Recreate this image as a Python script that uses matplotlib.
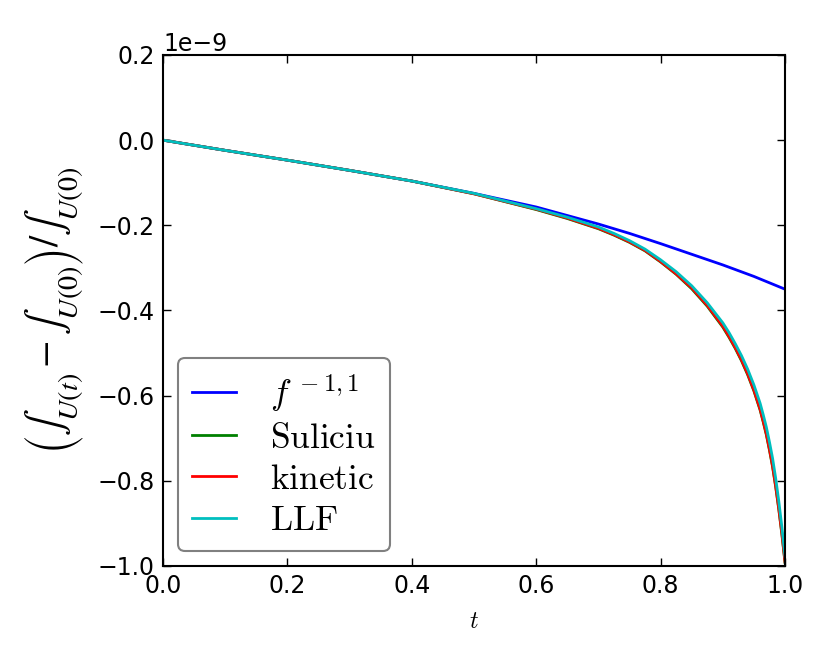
#!/usr/bin/env python3
"""Relative mass drift of the four schemes over time."""

import matplotlib

matplotlib.use("Agg")
import matplotlib.pyplot as plt
import numpy as np

# t samples, values in units of 1e-9
T_BLUE = [0.0, 0.1, 0.2, 0.3, 0.4, 0.5, 0.6, 0.65, 0.7, 0.75, 0.8, 0.85, 0.9, 0.95, 1.0]
V_BLUE = [0.0, -0.024, -0.047, -0.071, -0.096, -0.125, -0.157, -0.177, -0.197, -0.219,
          -0.243, -0.268, -0.293, -0.320, -0.350]

T_STIFF = [0.0, 0.1, 0.2, 0.3, 0.4, 0.5, 0.6, 0.65, 0.7, 0.725, 0.75, 0.775, 0.8, 0.825,
           0.85, 0.875, 0.9, 0.91, 0.92, 0.93, 0.94, 0.95, 0.96, 0.965, 0.97, 0.975,
           0.98, 0.985, 0.99, 0.995, 1.0]
V_SULICIU = [0.0, -0.024, -0.047, -0.071, -0.096, -0.126, -0.163, -0.184, -0.208, -0.223,
             -0.240, -0.260, -0.286, -0.315, -0.349, -0.390, -0.439, -0.463, -0.489,
             -0.518, -0.551, -0.589, -0.634, -0.662, -0.692, -0.728, -0.767, -0.814,
             -0.867, -0.926, -0.992]
V_KINETIC = [0.0, -0.024, -0.047, -0.071, -0.096, -0.126, -0.162, -0.183, -0.207, -0.222,
             -0.239, -0.259, -0.285, -0.314, -0.347, -0.388, -0.437, -0.461, -0.487,
             -0.516, -0.549, -0.587, -0.632, -0.660, -0.690, -0.726, -0.765, -0.812,
             -0.865, -0.924, -0.990]
V_LLF = [0.0, -0.024, -0.047, -0.071, -0.096, -0.125, -0.161, -0.181, -0.204, -0.219,
         -0.236, -0.256, -0.281, -0.309, -0.342, -0.382, -0.429, -0.452, -0.478,
         -0.506, -0.538, -0.575, -0.618, -0.645, -0.674, -0.709, -0.747, -0.794,
         -0.848, -0.909, -0.978]

SERIES = [
    (r"$f^{\,-1,1}$", "b", T_BLUE, V_BLUE),
    (r"$\mathrm{Suliciu}$", "g", T_STIFF, V_SULICIU),
    (r"$\mathrm{kinetic}$", "r", T_STIFF, V_KINETIC),
    (r"$\mathrm{LLF}$", "c", T_STIFF, V_LLF),
]
SCALE = 1e-9

plt.rcParams["font.family"] = ["DejaVu Sans"]
plt.rcParams["mathtext.fontset"] = "cm"
plt.rcParams["axes.unicode_minus"] = True

fig = plt.figure(figsize=(8.3, 6.64), dpi=100)
ax = fig.add_axes([0.1964, 0.1476, 0.7494, 0.7696])

for label, color, t, v in SERIES:
    ax.plot(t, np.array(v) * SCALE, color=color, lw=2.0, label=label)

ax.set_xlim(0.0, 1.0)
ax.set_ylim(-1.0e-9, 0.2e-9)
ax.set_xticks(np.arange(0.0, 1.01, 0.2))
ax.set_yticks(np.arange(-1.0e-9, 0.21e-9, 0.2e-9))
ax.tick_params(direction="in", top=True, right=True, length=6, width=1.0,
               labelsize=17, pad=6)
ax.yaxis.get_offset_text().set_fontsize(17)
for spine in ax.spines.values():
    spine.set_linewidth(1.5)

ax.set_xlabel(r"$t$", fontsize=17, labelpad=8)
ax.set_ylabel(r"$\left(\int_{U(t)}-\int_{U(0)}\right)/\int_{U(0)}$", fontsize=29,
              math_fontfamily="stix", labelpad=8)

leg = ax.legend(loc="lower left", fontsize=25.5, fancybox=True, handlelength=1.25,
                handletextpad=0.95, borderpad=0.4, labelspacing=0.2,
                borderaxespad=0.42, framealpha=1.0)
leg.get_frame().set_edgecolor("0.5")
leg.get_frame().set_linewidth(1.5)

fig.savefig("out.png", dpi=100)
